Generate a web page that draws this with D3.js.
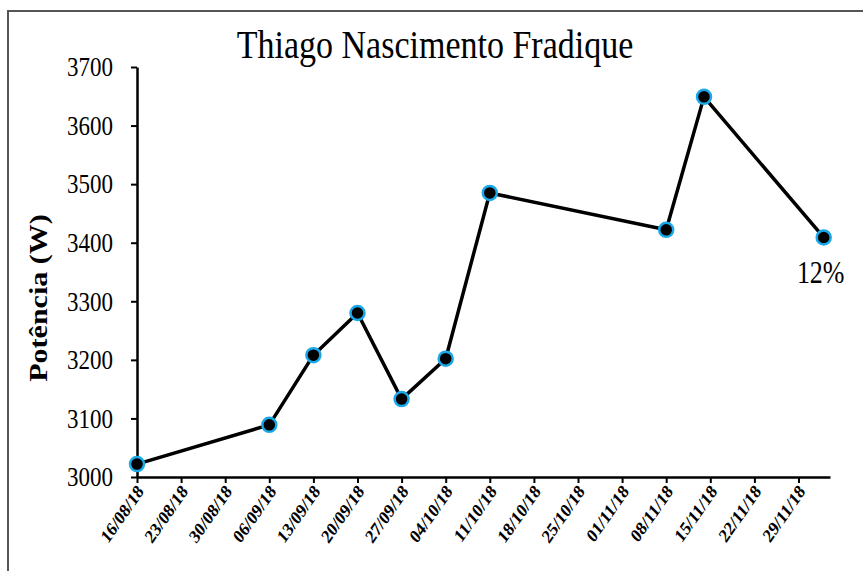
<!DOCTYPE html>
<html>
<head>
<meta charset="utf-8">
<script src="https://cdn.jsdelivr.net/npm/d3@7"></script>
<style>
  body { margin: 0; background: #fff; }
  text { font-family: "Liberation Serif", "Times New Roman", serif; }
</style>
</head>
<body>
<div class="chart"></div>
<script>
'use strict';

// data
var dates = ['16/08/18', '06/09/18', '13/09/18', '20/09/18', '27/09/18', '04/10/18',
  '11/10/18', '08/11/18', '14/11/18', '03/12/18'];
var power = [3022, 3089, 3208, 3280, 3133, 3202, 3485, 3422, 3649, 3409];
var tickLabels = ['16/08/18', '23/08/18', '30/08/18', '06/09/18', '13/09/18', '20/09/18',
  '27/09/18', '04/10/18', '11/10/18', '18/10/18', '25/10/18', '01/11/18', '08/11/18',
  '15/11/18', '22/11/18', '29/11/18'];
var yTicks = [3000, 3100, 3200, 3300, 3400, 3500, 3600, 3700];
var xStart = '16/08/18', xEnd = '04/12/18';
var title = 'Thiago Nascimento Fradique';
var yTitle = 'Potência (W)';
var endLabel = '12%';

var parse = d3.timeParse('%d/%m/%y');

// the source picture is a bit stretched vertically, so text is too
var stretch = 'scale(1,1.2)';

var margin = {top: 67, right: 33, bottom: 94, left: 137},
  width = 863 - margin.left - margin.right,
  height = 571 - margin.top - margin.bottom;

var svg = d3.select('.chart').append('svg')
  .attr('width', 863)
  .attr('height', 571);

// chart frame (cropped on the right and bottom)
svg.append('rect')
  .attr('x', 8)
  .attr('y', 11)
  .attr('width', 1000)
  .attr('height', 800)
  .attr('fill', 'none')
  .attr('stroke', '#555')
  .attr('stroke-width', 2);

svg.append('text')
  .attr('transform', 'translate(435,58) ' + stretch)
  .attr('text-anchor', 'middle')
  .attr('font-size', 34)
  .text(title);

var g = svg.append('g')
  .attr('transform', 'translate(' + margin.left + ',' + margin.top + ')');

var x = d3.scaleTime()
  .domain([parse(xStart), parse(xEnd)])
  .range([0, width]);

var y = d3.scaleLinear()
  .domain([3000, 3700])
  .range([height, 0]);

var xAxis = g.append('g')
  .attr('transform', 'translate(0,' + height + ')')
  .call(d3.axisBottom(x)
    .tickValues(tickLabels.map(parse))
    .tickFormat(d3.timeFormat('%d/%m/%y'))
    .tickSizeInner(6)
    .tickSizeOuter(0));

xAxis.select('.domain').attr('stroke', '#000').attr('stroke-width', 2.5);
xAxis.selectAll('.tick line').attr('stroke', '#000').attr('stroke-width', 2);
xAxis.selectAll('.tick text')
  .attr('font-family', '"Liberation Serif", serif')
  .attr('font-weight', 'bold')
  .attr('font-size', 16)
  .attr('fill', '#000')
  .attr('text-anchor', 'end')
  .attr('dy', null)
  .attr('y', 0)
  .attr('transform', 'translate(7,15) ' + stretch + ' rotate(-50)');

var yAxis = g.append('g')
  .call(d3.axisLeft(y)
    .tickValues(yTicks)
    .tickFormat(d3.format('d'))
    .tickSizeInner(6)
    .tickSizeOuter(0)
    .tickPadding(18));

yAxis.select('.domain').attr('stroke', '#000').attr('stroke-width', 2.5);
yAxis.selectAll('.tick line').attr('stroke', '#000').attr('stroke-width', 2);
yAxis.selectAll('.tick text')
  .attr('font-family', '"Liberation Serif", serif')
  .attr('font-size', 23)
  .attr('fill', '#000')
  .attr('transform', stretch);

svg.append('text')
  .attr('transform', 'translate(47,298) ' + stretch + ' rotate(-90)')
  .attr('text-anchor', 'middle')
  .attr('font-size', 25)
  .attr('font-weight', 'bold')
  .text(yTitle);

var points = dates.map(function(d, i) {
  return {date: parse(d), value: power[i]};
});

var line = d3.line()
  .x(function(d) { return x(d.date); })
  .y(function(d) { return y(d.value); });

g.append('path')
  .datum(points)
  .attr('fill', 'none')
  .attr('stroke', '#000')
  .attr('stroke-width', 3.5)
  .attr('stroke-linejoin', 'round')
  .attr('d', line);

g.selectAll('.dot')
  .data(points)
  .enter().append('circle')
  .attr('class', 'dot')
  .attr('cx', function(d) { return x(d.date); })
  .attr('cy', function(d) { return y(d.value); })
  .attr('r', 7)
  .attr('fill', '#000')
  .attr('stroke', '#1aa9e8')
  .attr('stroke-width', 2.5);

var last = points[points.length - 1];
g.append('text')
  .attr('transform', 'translate(' + (x(last.date) - 3) + ',' + (y(last.value) + 46) + ') ' + stretch)
  .attr('text-anchor', 'middle')
  .attr('font-size', 26)
  .text(endLabel);
</script>
</body>
</html>
